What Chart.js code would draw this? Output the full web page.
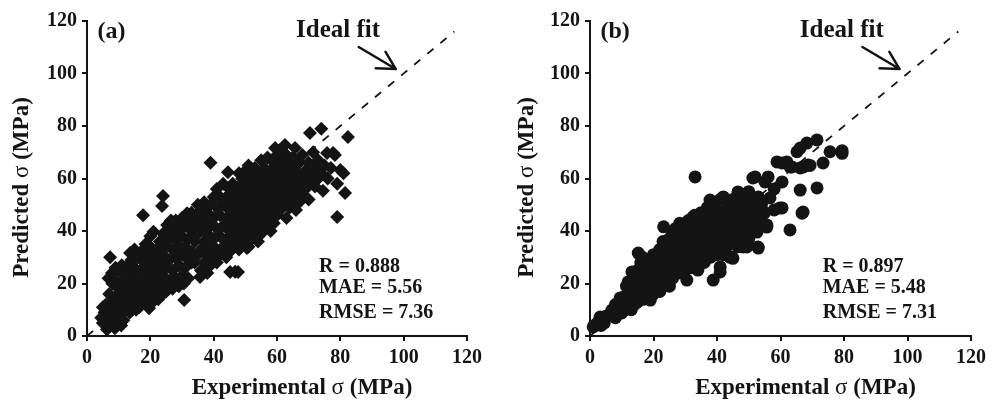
<!DOCTYPE html>
<html>
<head>
<meta charset="utf-8">
<script src="https://cdn.jsdelivr.net/npm/chart.js@4.4.0/dist/chart.umd.min.js"></script>
<style>
  html, body { margin: 0; padding: 0; background: #fff; }
  #wrap { position: relative; width: 999px; height: 400px; }
  canvas { position: absolute; top: 0; }
</style>
</head>
<body>
<div id="wrap">
  <canvas id="panelA" width="500" height="400" style="left:0"></canvas>
  <canvas id="panelB" width="499" height="400" style="left:500px"></canvas>
</div>
<script>
// Axis ticks shared by both panels (MPa)
const tickValues = [0, 20, 40, 60, 80, 100, 120];

// Ideal-fit (y = x) reference line end points
const idealX = [0, 116];
const idealY = [0, 116];

// Panel (a): [experimental, predicted] strength, MPa
const pointsA = [
  [5,5],[5.5,9],[6.3,2.5],[6,12],[6.5,7],[7,4],[7,16],[7.5,10],[8,6],[8,13],[8,20],[7.3,30],[5,11],[6.8,22],[7.9,24],[4.5,7],[8.8,3],
  [9,8],[9,15],[9,21],[9.5,5],[10,11],[10,18],[10,25],[10.5,8],[11,14],[11,21],[11,27],[11.5,6],[12,10],[12,17],[12,24],[9,26],[10.8,4],
  [12.5,13],[13,20],[13,27],[13.5,9],[14,16],[14,23],[14,29],[14.5,12],[15,19],[15,26],[15.5,10],[16,15],[16,22],[16,30],[13.6,31.6],[15,33],
  [16.5,11],[17,18],[17,25],[17,32],[17.7,46],[18,13],[18,21],[18,28],[18.5,35],[19.6,10.6],[19,16],[19,24],[19,31],[20,12],[20,19],[20,27],[20,34],[20,38],
  [21,14],[21,22],[21,30],[21,39.7],[22,17],[22,25],[22,33],[22.5,14],[23,20],[23,28],[23,36],[23.7,49.5],[24,53.3],[24,16],[24,23],[24,31],[24,39],[25,19],[25,26],[25,34],[25.3,42.3],[25,17],
  [26,21],[26,29],[26,37],[26.5,44],[27,18],[27,25],[27,33],[27,40],[28,22],[28,30],[28,37],[28,44],[29,19],[29,27],[29,34],[29,41],[30,23],[30,31],[30,38],[30,45],[30.6,20],[30.7,13.7],
  [31,26],[31,34],[31,42],[31.6,46.8],[32,22],[32,29],[32,37],[32,44],[33,28],[33,32],[33,40],[33,47],[34,28],[34,36],[34,43],[35.7,22.5],[35,31],[35,39],[35,46],[35,50],
  [36,25],[36,33],[36,41],[36,48],[37,28],[37,36],[37,44],[37,51],[38,24],[38,31],[38,39],[38,47],[39,27],[39,34],[39,42],[39,50],[39,66],[40,30],[40,37],[40,45],[40,53],
  [41,28],[41,33],[41,41],[41,49],[41,56],[42,31],[42,38],[42,46],[42,53],[43,34],[43,42],[43,50],[43,58],[44,30],[44,37],[44,45],[44,53],[44.5,62.4],[45,32],[45,40],[45,48],[45,56],[45.2,24.4],
  [46,35],[46,43],[46,51],[46,58],[46.8,24.5],[47,38],[47,46],[47,54],[47.7,24.4],[48,33],[48,41],[48,49],[48,57],[48,62],[49,36],[49,44],[49,52],[49,60],[50,39],[50,47],[50,55],[50,63],[50.5,33.5],
  [51,34],[51,42],[51,50],[51,58],[51,65],[52,37],[52,45],[52,53],[52,61],[53,40],[53,48],[53,56],[53,64],[54,36],[54,43],[54,51],[54,59],[55,39],[55,46],[55,54],[55,62],[55,67],
  [56,42],[56,49],[56,57],[56,64],[57,45],[57,52],[57,60],[57,68],[58,40],[58,47],[58,55],[58,63],[59,43],[59,50],[59,58],[59,66],[60,46],[60,53],[60,61],[60,69],[59.4,71.6],
  [61,48],[61,56],[61,64],[61,71],[62,51],[62,59],[62,67],[62.5,72.8],[63,45],[63,54],[63,62],[63,69],[64,49],[64,57],[64,65],[65,52],[65,60],[65,68],[65.7,71.6],
  [66,48],[66,55],[66,63],[67,51],[67,58],[67,66],[68,54],[68,61],[68,69],[69,56],[69,63],[70,52],[70,59],[70,66],[70.4,77.3],
  [71,61],[71.4,70],[72,57],[72,64],[73,60],[73,67],[74,62],[74,79],[74.5,55.3],[75,65],[75.8,69.7],
  [76,60],[77,64],[77.7,69.7],[78.3,69],[79,45.3],[79,58],[80,63.2],[81,62],[81.5,54.5],[82.4,75.8]
];

// Panel (b): [experimental, predicted] strength, MPa
const pointsB = [
  [1,3.5],[1.5,4],[2.6,5.3],[3.2,7.2],[2,4.5],[3.5,4],[4,6],[4.5,5],[5,7.5],
  [6,8],[6.9,9.9],[7.4,9.9],[8,7],[8,12],[9,10],[9.5,14.5],[10,8.8],[10,11],[10,14.5],
  [11,10],[11,15],[11.5,19],[12,12],[12,20.6],[12.5,16],[13,10],[13.2,24.4],[13,14],[14,12],[14,18],[14,22],[15,13],[15,17],[15.2,31.6],[15,25],
  [16,15],[16,20],[16,28],[16.5,30],[17,14],[17,23],[17,27],[18,16],[18,20],[18,25],[18,29],[19,13.7],[19,18],[19,23],[20,16],[20,21],[20,27],[20,31],
  [21,19],[21,24],[21,29],[22,17],[22,22],[22,27],[22,33],[23,20],[23,25],[23.2,41.6],[23,31],[23,36],[24,22],[24,28],[24,34],[25,19],[25,24],[25,30],[25,37],
  [26,22],[26,27],[26,33],[26,39],[27,25],[27,30],[27,36],[27,41],[28,24],[28.3,43],[28,29],[28,34],[28,39],[29,27],[29,32],[29,37],[29,42],[30,25],[30.5,21.3],[30,30],[30,35],[30,40],
  [31,28],[31,33],[31,38],[31,44],[32,26],[32,31],[32.4,45.3],[32,36],[32,41],[33,29],[33.1,60.6],[33,34],[33,39],[33,46],[34,25.1],[34,32],[34,37],[34,43],[35,30],[35,35],[35,41],[35,47],
  [36,28],[36,33],[36,39],[36,45],[37,31],[37,37],[37,42],[37,49],[37.8,51.8],[38,30],[38,35],[38,40],[38,46],[38.8,21.3],[39,33],[39,38],[39,44],[39,50],[40,31],[40,36],[40,42],[40,48],
  [41,24.4],[41,26.3],[41,34],[41,40],[41,46],[41,52],[42,31],[42,37],[42,44],[42,53],[43,34],[43,40],[43,48],[44,30],[44,37],[44,44],[44,51],[44.7,30.1],[45,29.6],[45,38],[45,46],[45,52],
  [46,35],[46,42],[46,49],[46.6,54.9],[46.6,34],[47,39],[47,45],[47,52],[48,36],[48,43],[48,50],[48.2,33.9],[49,40],[49,47],[49,54],[49.4,33.9],[50,37],[50,44],[50,51],[50,55],
  [51,40],[51,48],[51.3,60.2],[52,43],[52,49.9],[52,60.6],[52.6,39.6],[52.9,33.9],[53,46],[53,53],[53,33.5],[54,44],[54,50],[55,47],[55.1,58.7],[55.7,41.5],[55.7,42.3],[56.1,60.6],[56.7,52.6],
  [58,48],[58,56],[58.9,66.3],[59.8,48.8],[60.5,58.7],[60.5,65.9],[60.5,48.8],[62,66.3],[63,40.4],[63,64.4],[63.6,64.4],[65.2,70.2],[66.2,71.6],[66.2,64],[66.2,55.6],[66.8,46.8],[67.1,47.2],[67.2,64.4],
  [68.3,73.5],[68.7,65.1],[69.3,65],[71.5,74.7],[71.5,56.4],[73.4,65.9],[75.6,70.2],[79.4,69.6],[79.4,70.6]
];

// Goodness-of-fit summaries printed inside each panel
const statsA = ['R = 0.888', 'MAE = 5.56', 'RMSE = 7.36'];
const statsB = ['R = 0.897', 'MAE = 5.48', 'RMSE = 7.31'];

const xTitleRuns = [['Experimental ', 'bold'], ['\u03c3', 'normal'], [' (MPa)', 'bold']];
const yTitleRuns = [['Predicted ', 'bold'], ['\u03c3', 'normal'], [' (MPa)', 'bold']];

const serif = "'Liberation Serif', 'Times New Roman', serif";
const ink = '#141414';

function drawRuns(ctx, runs, size, cx, baseY) {
  let total = 0;
  const widths = runs.map(([t, w]) => {
    ctx.font = `${w} ${size}px ${serif}`;
    const m = ctx.measureText(t).width;
    total += m;
    return m;
  });
  let x = cx - total / 2;
  runs.forEach(([t, w], i) => {
    ctx.font = `${w} ${size}px ${serif}`;
    ctx.fillText(t, x, baseY);
    x += widths[i];
  });
}

// Axis titles, panel tag, "Ideal fit" callout and statistics
const panelDecor = {
  id: 'panelDecor',
  afterDraw(chart, args, o) {
    const { ctx, chartArea: a, scales: { x, y } } = chart;
    ctx.save();
    ctx.fillStyle = ink;
    ctx.strokeStyle = ink;
    ctx.textBaseline = 'alphabetic';
    ctx.textAlign = 'left';

    // axis titles
    drawRuns(ctx, xTitleRuns, 23, (a.left + a.right) / 2 + 25, 394);
    ctx.save();
    ctx.translate(a.left - o.yTitleGap, (a.top + a.bottom) / 2 + 9);
    ctx.rotate(-Math.PI / 2);
    drawRuns(ctx, yTitleRuns, 23, 0, 0);
    ctx.restore();

    // panel tag
    ctx.font = `bold 24px ${serif}`;
    ctx.fillText(o.tag, x.getPixelForValue(3.3), y.getPixelForValue(113.5));

    // callout
    ctx.font = `bold 25px ${serif}`;
    ctx.textAlign = 'center';
    ctx.fillText('Ideal fit', x.getPixelForValue(79.3), y.getPixelForValue(113.9));

    const tx = x.getPixelForValue(85.8), ty = y.getPixelForValue(110.1);
    const hx = x.getPixelForValue(97.5), hy = y.getPixelForValue(101.7);
    const ang = Math.atan2(ty - hy, tx - hx);
    ctx.beginPath();
    ctx.moveTo(tx, ty);
    ctx.lineTo(hx, hy);
    [-0.5, 0.5].forEach(d => {
      ctx.moveTo(hx, hy);
      ctx.lineTo(hx + 20 * Math.cos(ang + d), hy + 20 * Math.sin(ang + d));
    });
    ctx.lineWidth = 2.5;
    ctx.lineCap = 'round';
    ctx.stroke();

    // statistics
    ctx.font = `bold 20px ${serif}`;
    ctx.textAlign = 'left';
    const rows = [24.5, 16.3, 7.0];
    o.stats.forEach((s, i) => {
      ctx.fillText(s, x.getPixelForValue(73.3), y.getPixelForValue(rows[i]));
    });
    ctx.restore();
  }
};

function axis(fitFn) {
  return {
    type: 'linear',
    min: 0,
    max: 120,
    afterBuildTicks: s => { s.ticks = tickValues.map(v => ({ value: v })); },
    afterFit: fitFn,
    ticks: {
      color: ink,
      padding: 5,
      font: { family: serif, size: 20, weight: 'bold' }
    },
    grid: {
      display: true,
      drawOnChartArea: false,
      drawTicks: true,
      tickLength: 5,
      color: ink,
      lineWidth: 2
    },
    border: { display: true, color: ink, width: 2 }
  };
}

function makePanel(id, points, marker, radius, stats, tag, leftW, rightPad, yGap) {
  return new Chart(document.getElementById(id), {
    type: 'scatter',
    data: {
      datasets: [
        {
          data: points.map(([px, py]) => ({ x: px, y: py })),
          pointStyle: marker,
          pointRadius: radius,
          pointBackgroundColor: ink,
          pointBorderColor: ink,
          pointBorderWidth: 0,
          clip: false,
          order: 0
        },
        {
          type: 'line',
          data: idealX.map((v, i) => ({ x: v, y: idealY[i] })),
          borderColor: ink,
          borderWidth: 1.8,
          borderDash: [8, 9],
          pointRadius: 0,
          fill: false,
          clip: false,
          order: 1
        }
      ]
    },
    options: {
      responsive: false,
      animation: false,
      devicePixelRatio: 1,
      layout: { padding: { top: 21, right: rightPad, left: 0, bottom: 0 } },
      events: [],
      plugins: {
        legend: { display: false },
        tooltip: { enabled: false },
        panelDecor: { stats: stats, tag: tag, yTitleGap: yGap }
      },
      scales: {
        x: axis(s => { s.height = 64; }),
        y: axis(s => { s.width = leftW; })
      }
    },
    plugins: [panelDecor]
  });
}

makePanel('panelA', pointsA, 'rectRot', 7, statsA, '(a)', 87, 33, 59);
makePanel('panelB', pointsB, 'circle', 6.5, statsB, '(b)', 90, 28, 57);
</script>
</body>
</html>
